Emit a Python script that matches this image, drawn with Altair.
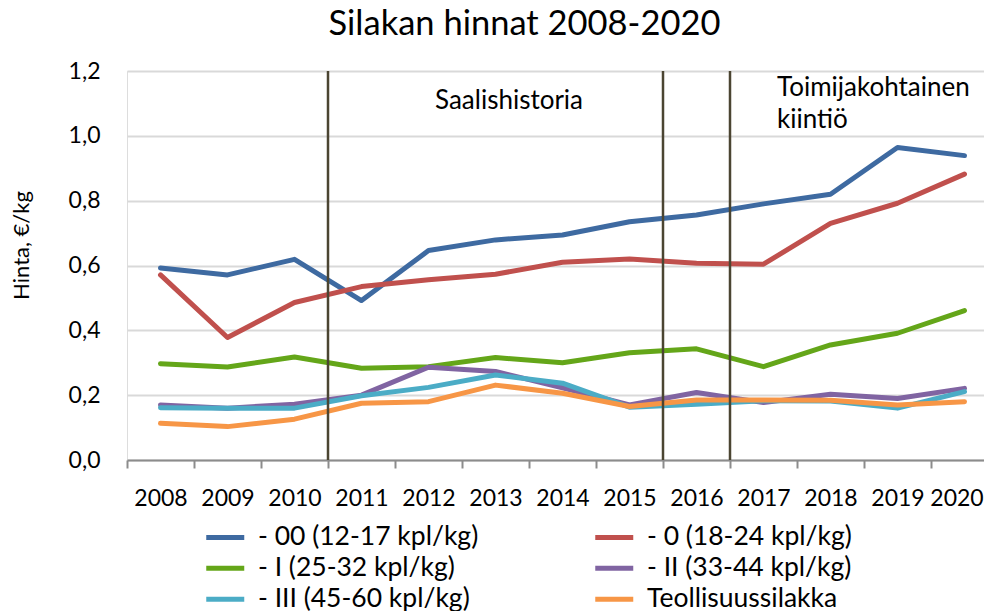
import altair as alt
import pandas as pd

# ---- data ----
years = [str(y) for y in range(2008, 2021)]
series = [
    "- 00 (12-17 kpl/kg)",
    "- 0 (18-24 kpl/kg)",
    "- I (25-32 kpl/kg)",
    "- II (33-44 kpl/kg)",
    "- III (45-60 kpl/kg)",
    "Teollisuussilakka",
]
v00 = [0.592, 0.571, 0.619, 0.492, 0.646, 0.679, 0.694, 0.735, 0.756, 0.790, 0.820, 0.964, 0.939]
v0 = [0.571, 0.378, 0.486, 0.535, 0.556, 0.573, 0.610, 0.620, 0.607, 0.604, 0.730, 0.792, 0.882]
vI = [0.297, 0.287, 0.318, 0.283, 0.288, 0.316, 0.300, 0.331, 0.343, 0.288, 0.355, 0.391, 0.461]
vII = [0.170, 0.160, 0.172, 0.200, 0.286, 0.273, 0.223, 0.170, 0.208, 0.177, 0.203, 0.190, 0.221]
vIII = [0.161, 0.160, 0.160, 0.198, 0.224, 0.262, 0.237, 0.163, 0.172, 0.183, 0.182, 0.160, 0.211]
vT = [0.113, 0.103, 0.126, 0.175, 0.180, 0.231, 0.206, 0.165, 0.185, 0.185, 0.184, 0.170, 0.180]
boundary_years = ["2011", "2016", "2017"]
y_ticks = [0.0, 0.2, 0.4, 0.6, 0.8, 1.0, 1.2]
colors = ["#3E6AA1", "#C0504D", "#64A619", "#8064A2", "#4BACC6", "#F79646"]

rows = []
for name, vals in zip(series, [v00, v0, vI, vII, vIII, vT]):
    for yr, v in zip(years, vals):
        rows.append({"Vuosi": yr, "Hinta": v, "Sarja": name})
df = pd.DataFrame(rows)
rules_df = pd.DataFrame({"Vuosi": boundary_years})

FONT = "Lato"
W, H = 857, 389

# the reference's category axis runs a little past the right edge of the picture
xscale = alt.Scale(type="band", domain=years, paddingInner=0, paddingOuter=0, range=[0, 871])
yscale = alt.Scale(domain=[0, 1.2], nice=False, zero=True)

x_axis = alt.Axis(
    title=None, labelAngle=0, labelFont=FONT, labelFontSize=23, labelColor="#000000",
    labelPadding=19, domainColor="#8C8C8C", domainWidth=2, tickColor="#8C8C8C",
    tickWidth=2, tickSize=8, tickBand="extent", grid=False,
    labelOffset={"condition": {"test": "datum.value === '2020'", "value": -8}, "value": 0},
)
y_axis = alt.Axis(
    values=y_ticks, format=".1f", labelExpr="replace(datum.label, '.', ',')",
    labelFont=FONT, labelFontSize=23, labelColor="#000000", labelPadding=27,
    domain=False, ticks=False, gridColor="#D9D9D9", gridWidth=2,
    title="Hinta, €/kg", titleFont=FONT, titleFontSize=22, titleFontWeight="normal",
    titleColor="#000000", titleX=-106, titleY=174, titleAlign="center",
    titleBaseline="middle", titleAngle=-90,
)

lines = alt.Chart(df).mark_line(strokeWidth=5, strokeJoin="round", strokeCap="round").encode(
    x=alt.X("Vuosi:O", scale=xscale, axis=x_axis, bandPosition=0.5),
    y=alt.Y("Hinta:Q", scale=yscale, axis=y_axis),
    color=alt.Color(
        "Sarja:N",
        scale=alt.Scale(domain=series, range=colors),
        legend=alt.Legend(
            title=None, orient="none", legendX=85, legendY=453, columns=2,
            direction="horizontal", columnPadding=106, rowPadding=4, padding=0,
            symbolType="M-2,0H2", symbolSize=361, symbolStrokeWidth=5,
            labelFont=FONT, labelFontSize=26.5, labelColor="#000000",
            labelLimit=400, labelOffset=19.5,
        ),
    ),
)

rules = alt.Chart(rules_df).mark_rule(color="#4B4532", strokeWidth=2.5).encode(
    x=alt.X("Vuosi:O", scale=xscale, bandPosition=0),
    y=alt.datum(1.2),
    y2=alt.datum(0),
)

ann1 = alt.Chart().mark_text(
    text="Saalishistoria", font=FONT, fontSize=26, align="left", baseline="middle",
    color="#000000", dx=40,
).encode(x=alt.XDatum("2012", bandPosition=0), y=alt.datum(1.107))

ann2 = alt.Chart().mark_text(
    text="Toimijakohtainen", font=FONT, fontSize=26, align="left", baseline="middle",
    color="#000000", dx=47,
).encode(x=alt.XDatum("2017", bandPosition=0), y=alt.datum(1.147))

ann3 = alt.Chart().mark_text(
    text="kiintiö", font=FONT, fontSize=26, align="left", baseline="middle",
    color="#000000", dx=47,
).encode(x=alt.XDatum("2017", bandPosition=0), y=alt.datum(1.049))

chart = alt.layer(lines, rules, ann1, ann2, ann3).properties(
    width=W, height=H,
    title=alt.Title(
        "Silakan hinnat 2008-2020", font=FONT, fontSize=34.5, fontWeight="normal",
        color="#000000", anchor="middle", frame="group", dx=-31, offset=18,
    ),
    autosize=alt.AutoSizeParams(type="none"),
    padding={"left": 119, "top": 63, "right": 0, "bottom": 151},
).configure_view(stroke=None).configure(background="white")

chart.save("out.html", embed_options={"renderer": "svg", "actions": False})
